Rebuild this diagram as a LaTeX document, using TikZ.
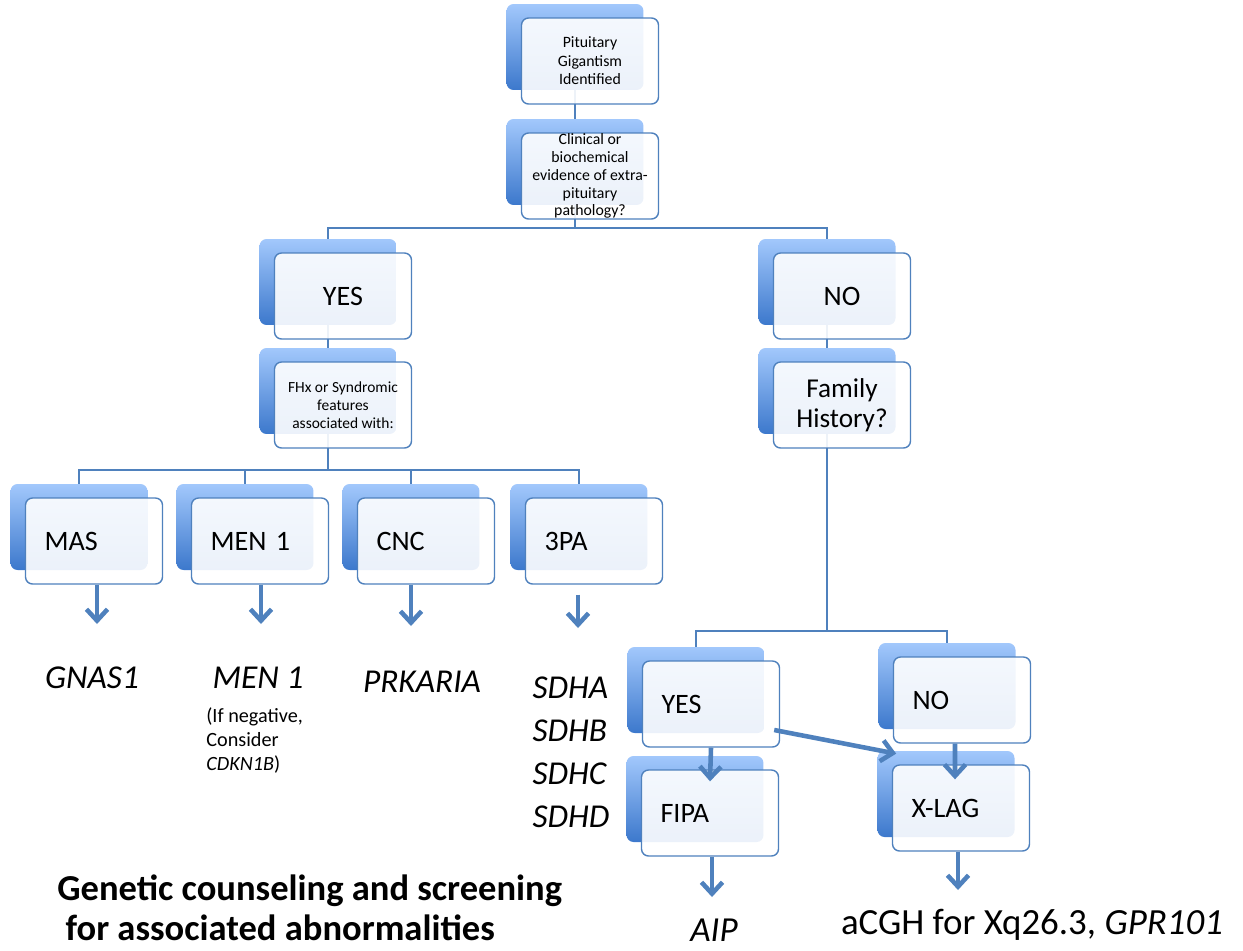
\documentclass[tikz,border=0pt]{standalone}
\usepackage{fontspec}
\setmainfont{Carlito}
\usetikzlibrary{arrows.meta,backgrounds}
\definecolor{linec}{RGB}{79,129,189}
\definecolor{backtop}{RGB}{162,200,252}
\definecolor{backbot}{RGB}{60,120,204}
\tikzset{
  backbox/.style={rounded corners=0.14cm, top color=backtop, bottom color=backbot, draw=none,
    minimum width=2.74cm, minimum height=1.72cm, inner sep=0pt},
  frontbox/.style={draw=linec, line width=0.8pt, rounded corners=0.14cm, fill=white,
    fill opacity=0.9, text opacity=1, minimum width=2.74cm, minimum height=1.72cm,
    inner sep=0pt, align=center},
  leftbox/.style={frontbox, text width=1.98cm, inner xsep=0.38cm, align=left,
    font=\fontsize{16}{19}\selectfont},
  conn/.style={draw=linec, line width=0.9pt},
  arr/.style={draw=linec, line width=2.6pt, -{Straight Barb[length=6.5pt,width=12pt]}},
  gene/.style={font=\fontsize{19}{22}\selectfont\itshape, inner sep=0pt},
}
\begin{document}
\begin{tikzpicture}[x=0.02cm, y=-0.02cm]
\useasboundingbox (0,0) rectangle (1243,950);

% Top of the chart
\node[backbox] (bpit) at (575,47) {};
\node[frontbox, font=\fontsize{9}{10.5}\selectfont] (pit) at ([shift={(15,14)}]bpit) {Pituitary\\Gigantism\\Identified};
\node[backbox] (bclin) at (575,162) {};
\node[frontbox, font=\fontsize{9}{10.2}\selectfont] (clin) at ([shift={(15,14)}]bclin) {Clinical or\\biochemical\\evidence of extra-\\pituitary\\pathology?};

% Left branch
\node[backbox] (byes) at (328,282) {};
\node[frontbox, font=\fontsize{16}{19}\selectfont] (yes) at ([shift={(15,14)}]byes) {YES};
\node[backbox] (bfhx) at (328,391) {};
\node[frontbox, font=\fontsize{8.8}{10.2}\selectfont] (fhx) at ([shift={(15,14)}]bfhx) {FHx or Syndromic\\features\\associated with:};

% Right branch
\node[backbox] (bno) at (827,282) {};
\node[frontbox, font=\fontsize{16}{19}\selectfont] (no) at ([shift={(15,14)}]bno) {NO};
\node[backbox] (bfam) at (827,391) {};
\node[frontbox, font=\fontsize{15.5}{17}\selectfont] (fam) at ([shift={(15,14)}]bfam) {Family\\History?};

% Syndromes
\node[backbox] (bmas) at (79,527) {};
\node[leftbox] (mas) at ([shift={(15,14)}]bmas) {MAS};
\node[backbox] (bmen) at (245,527) {};
\node[leftbox] (men) at ([shift={(15,14)}]bmen) {MEN 1};
\node[backbox] (bcnc) at (411,527) {};
\node[leftbox] (cnc) at ([shift={(15,14)}]bcnc) {CNC};
\node[backbox] (bpa) at (579,527) {};
\node[leftbox] (pa) at ([shift={(15,14)}]bpa) {3PA};

% Family history answers
\node[backbox] (byes2) at (696,690) {};
\node[leftbox] (yes2) at ([shift={(15,14)}]byes2) {YES};
\node[backbox] (bno2) at (947,686) {};
\node[leftbox] (no2) at ([shift={(15,14)}]bno2) {NO};
\node[backbox] (bfipa) at (695,799) {};
\node[leftbox] (fipa) at ([shift={(15,14)}]bfipa) {FIPA};
\node[backbox] (bxlag) at (946,794) {};
\node[leftbox] (xlag) at ([shift={(15,14)}]bxlag) {X-LAG};

% Thin connectors behind the boxes
\begin{scope}[on background layer]
\draw[conn] (bpit) -- (bclin);
\draw[conn] (bclin) -- (bclin |- 0,228) -| (byes);
\draw[conn] (bclin |- 0,228) -| (bno);
\draw[conn] (byes) -- (bfhx);
\draw[conn] (bno) -- (bfam);
\draw[conn] (bfhx) -- (bfhx |- 0,470) -| (bmas);
\draw[conn] (bfhx |- 0,470) -| (bmen);
\draw[conn] (bfhx |- 0,470) -| (bcnc);
\draw[conn] (bfhx |- 0,470) -| (bpa);
\draw[conn] (bfam) -- (bfam |- 0,631) -| (byes2);
\draw[conn] (bfam |- 0,631) -| (bno2);
\end{scope}

% Thick arrows
\coordinate (tmas) at (97,624);
\coordinate (tmen) at (261,624);
\coordinate (tcnc) at (411,626);
\coordinate (tpa) at (578,628);
\coordinate (tfipa) at (712,897);
\coordinate (txlag) at (958,890);
\draw[arr] (tmas |- mas.south) -- (tmas);
\draw[arr] (tmen |- men.south) -- (tmen);
\draw[arr] (tcnc |- cnc.south) -- (tcnc);
\draw[arr] ([yshift=-0.2cm]tpa |- pa.south) -- (tpa);
\draw[arr] (yes2.south) -- ([yshift=-0.24cm]fipa.north);
\draw[arr] ([xshift=-0.14cm]no2.south) -- ([xshift=-0.12cm,yshift=-0.3cm]xlag.north);
\draw[arr] ([shift={(-6,26)}]yes2.east) -- ([shift={(19,3)}]bxlag.north west);
\draw[arr] (tfipa |- fipa.south) -- (tfipa);
\draw[arr] (txlag |- xlag.south) -- (txlag);

% Genes to test
\node[gene] (gnas) at (92,678) {GNAS1};
\node[gene] (menone) at (258,678) {MEN 1};
\node[font=\fontsize{11.5}{13.9}\selectfont, align=left, anchor=north west, inner sep=0pt] (menneg) at (206,707) {(If negative,\\Consider\\\textit{CDKN1B})};
\node[gene] (prk) at (422,682) {PRKARIA};
\node[gene, align=left, font=\fontsize{19}{24.4}\selectfont\itshape] (sdh) at (571,752) {SDHA\\SDHB\\SDHC\\SDHD};
\node[font=\fontsize{20.8}{22.7}\selectfont\bfseries, align=left, anchor=west, inner sep=0pt] (gcs) at (57,908) {Genetic counseling and screening\\\ for associated abnormalities};
\node[gene, font=\fontsize{20}{24}\selectfont\itshape] (aip) at (714,930) {AIP};
\node[font=\fontsize{21}{24}\selectfont, inner sep=0pt] (acgh) at (1032,925) {aCGH for Xq26.3, \textit{GPR101}};
\end{tikzpicture}
\end{document}
